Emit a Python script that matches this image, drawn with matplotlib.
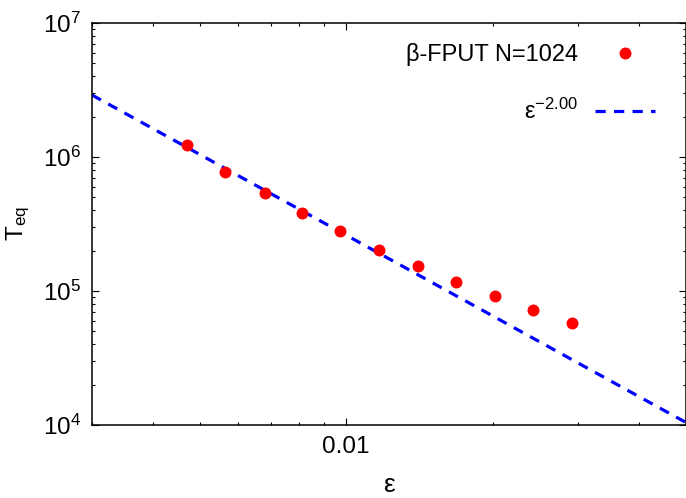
import numpy as np
import matplotlib
matplotlib.use("Agg")
import matplotlib.pyplot as plt
from matplotlib.ticker import LogLocator, FixedLocator, NullFormatter

plt.rcParams['font.family'] = ['Liberation Sans', 'DejaVu Sans']
plt.rcParams['mathtext.fontset'] = 'custom'
plt.rcParams['mathtext.rm'] = 'Liberation Sans'
plt.rcParams['mathtext.it'] = 'Liberation Sans'

# beta-FPUT, N=1024: equilibration time vs energy density
eps = [0.00470, 0.00563, 0.00680, 0.00810, 0.00972, 0.01170,
       0.01405, 0.01684, 0.02024, 0.02422, 0.02908]
t_eq = [1.23e6, 7.73e5, 5.36e5, 3.82e5, 2.80e5, 2.01e5,
        1.54e5, 1.17e5, 9.18e4, 7.18e4, 5.80e4]

# power law fit  T = C * eps^slope
fit_c = 26.1
fit_slope = -2.00
x_range = [0.003, 0.05]
y_range = [1e4, 1e7]

fig = plt.figure(figsize=(6.86, 4.98), dpi=100)
ax = fig.add_axes([92 / 686, 1 - 425 / 498, 594 / 686, 402 / 498])

ax.plot(eps, t_eq, 'o', color='#ff0000', markersize=8.6, markeredgewidth=0,
        label=r'β-FPUT N=1024', zorder=3)
x_fit = np.geomspace(x_range[0], x_range[1], 200)
ax.plot(x_fit, fit_c * x_fit ** fit_slope, color='#0000ff', linewidth=2.3,
        dashes=(3.2, 2.6), label=r'$\mathregular{ε^{-2.00}}$', zorder=2)

ax.set_xscale('log')
ax.set_yscale('log')
ax.set_xlim(x_range)
ax.set_ylim(y_range)

ax.xaxis.set_major_locator(FixedLocator([0.01]))
ax.set_xticklabels(['0.01'])
ax.xaxis.set_minor_locator(LogLocator(base=10, subs=np.arange(2, 10)))
ax.xaxis.set_minor_formatter(NullFormatter())
ax.yaxis.set_major_locator(LogLocator(base=10))
ax.yaxis.set_minor_locator(LogLocator(base=10, subs=np.arange(2, 10)))
ax.yaxis.set_minor_formatter(NullFormatter())

ax.tick_params(which='both', direction='in', top=True, right=True,
               labelsize=17.5, width=0.8)
ax.tick_params(which='major', length=5, pad=8)
ax.tick_params(which='minor', length=2.5)
for s in ax.spines.values():
    s.set_linewidth(1.1)

ax.set_xlabel('ε', fontsize=19, labelpad=11)
ax.set_ylabel(r'$\mathregular{T_{eq}}$', fontsize=17.5, labelpad=8)

# gnuplot style key: text right aligned, sample on the right
leg = ax.legend(loc='upper right', bbox_to_anchor=(0.96, 0.968),
                frameon=False, markerfirst=False,
                fontsize=17, handlelength=2.55, handletextpad=0.7,
                labelspacing=1.4, borderaxespad=0, numpoints=1,
                borderpad=0.3)
for col in leg._legend_handle_box.get_children():
    col.align = 'right'

fig.savefig('out.png', dpi=100)
